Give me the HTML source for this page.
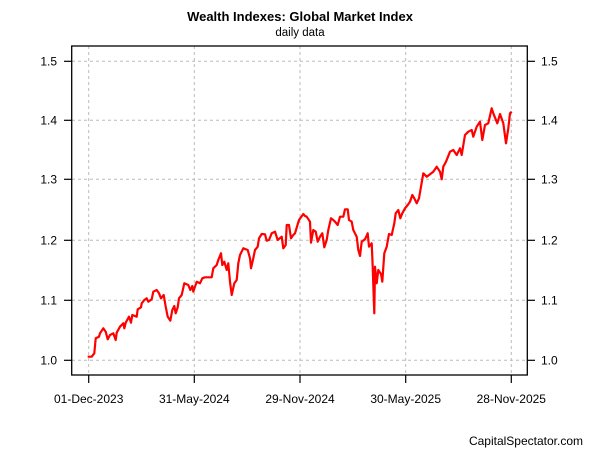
<!DOCTYPE html>
<html><head><meta charset="utf-8"><style>
html,body{margin:0;padding:0;background:#fff;width:600px;height:450px;overflow:hidden}
svg text{font-family:"Liberation Sans",Arial,sans-serif;fill:#000}
</style></head><body>
<svg id="s" width="600" height="450" xmlns="http://www.w3.org/2000/svg">
<text x="300" y="21" font-size="13" font-weight="bold" text-anchor="middle">Wealth Indexes: Global Market Index</text>
<text x="300" y="36" font-size="11.5" text-anchor="middle">daily data</text>
<g stroke="#bbb" stroke-dasharray="3,3" stroke-width="1">
<line x1="72" x2="527" y1="61.3" y2="61.3"/><line x1="72" x2="527" y1="120.3" y2="120.3"/><line x1="72" x2="527" y1="179.3" y2="179.3"/><line x1="72" x2="527" y1="240.3" y2="240.3"/><line x1="72" x2="527" y1="300.3" y2="300.3"/><line x1="72" x2="527" y1="360.3" y2="360.3"/>
<line y1="46" y2="375" x1="88.7" x2="88.7"/><line y1="46" y2="375" x1="194.3" x2="194.3"/><line y1="46" y2="375" x1="300" x2="300"/><line y1="46" y2="375" x1="405.7" x2="405.7"/><line y1="46" y2="375" x1="511.3" x2="511.3"/>
</g>
<rect x="71.7" y="46" width="455.6" height="329" fill="none" stroke="#000" stroke-width="1.3"/>
<g stroke="#000" stroke-width="1.2">
<line x1="64" x2="71.7" y1="61.3" y2="61.3"/><line x1="64" x2="71.7" y1="120.3" y2="120.3"/><line x1="64" x2="71.7" y1="179.3" y2="179.3"/><line x1="64" x2="71.7" y1="240.3" y2="240.3"/><line x1="64" x2="71.7" y1="300.3" y2="300.3"/><line x1="64" x2="71.7" y1="360.3" y2="360.3"/>
<line x1="527.3" x2="535" y1="61.3" y2="61.3"/><line x1="527.3" x2="535" y1="120.3" y2="120.3"/><line x1="527.3" x2="535" y1="179.3" y2="179.3"/><line x1="527.3" x2="535" y1="240.3" y2="240.3"/><line x1="527.3" x2="535" y1="300.3" y2="300.3"/><line x1="527.3" x2="535" y1="360.3" y2="360.3"/>
<line y1="375" y2="383" x1="88.7" x2="88.7"/><line y1="375" y2="383" x1="194.3" x2="194.3"/><line y1="375" y2="383" x1="300" x2="300"/><line y1="375" y2="383" x1="405.7" x2="405.7"/><line y1="375" y2="383" x1="511.3" x2="511.3"/>
</g>
<g font-size="12" text-anchor="end">
<text x="57" y="65.5">1.5</text><text x="57" y="124.5">1.4</text><text x="57" y="183.5">1.3</text><text x="57" y="244.5">1.2</text><text x="57" y="304.5">1.1</text><text x="57" y="364.5">1.0</text>
</g>
<g font-size="12">
<text x="541" y="65.5">1.5</text><text x="541" y="124.5">1.4</text><text x="541" y="183.5">1.3</text><text x="541" y="244.5">1.2</text><text x="541" y="304.5">1.1</text><text x="541" y="364.5">1.0</text>
</g>
<g font-size="12" text-anchor="middle">
<text x="88.7" y="403">01-Dec-2023</text><text x="194.3" y="403">31-May-2024</text><text x="300" y="403">29-Nov-2024</text><text x="405.7" y="403">30-May-2025</text><text x="511.3" y="403">28-Nov-2025</text>
</g>
<text x="583" y="445" font-size="12" text-anchor="end">CapitalSpectator.com</text>
<polyline id="p" fill="none" stroke="#f00" stroke-width="2.2" stroke-linejoin="round"/>
</svg>
<script>
var a=[[8,470],[20,470],[28,460],[32,415],[42,410],[45,400],[55,385],[62,395],[68,418],[75,405],[85,400],[92,420],[95,398],[105,380],[115,370],[118,385],[122,368],[132,350],[138,368],[142,345],[155,350],[158,328],[168,322],[170,310],[178,300],[185,295],[190,305],[200,298],[205,275],[215,270],[222,280],[228,295],[236,285],[242,320],[248,350],[256,362],[262,330],[268,318],[272,340],[278,322],[282,295],[290,285],[298,250],[310,255],[316,270],[322,258],[325,275],[335,245],[345,250],[352,235],[360,232],[380,232],[385,205],[395,195],[400,180],[408,160],[412,195],[418,185],[425,210],[430,190],[435,245],[440,285],[448,250],[455,240],[460,190],[465,165],[475,145],[488,150],[495,175],[498,205],[505,175],[510,150],[518,140],[522,115],[530,102],[540,103],[545,122],[552,120],[560,100],[570,95],[578,120],[590,110],[595,145],[602,135],[605,75],[612,75],[618,115],[625,105],[630,100],[642,60],[655,42],[660,48]];
var b=[[35,200],[45,215],[48,278],[55,240],[62,245],[68,275],[75,260],[82,250],[88,292],[95,270],[100,240],[108,205],[115,210],[120,215],[128,225],[135,200],[145,200],[150,178],[158,178],[162,210],[170,215],[175,240],[185,260],[190,300],[195,318],[200,275],[210,268],[218,250],[222,290],[230,280],[233,350],[236,440],[238,490],[240,350],[245,400],[250,360],[258,372],[262,395],[268,310],[275,290],[282,252],[290,255],[298,220],[302,190],[310,180],[316,205],[322,190],[330,175],[338,165],[345,155],[352,135],[358,145],[365,160],[372,145]];
var c=[[10,250],[20,260],[40,245],[50,230],[60,245],[65,268],[70,230],[78,215],[90,185],[100,180],[110,195],[120,175],[125,195],[135,135],[145,125],[155,120],[160,140],[170,110],[180,95],[187,150],[195,105],[205,100],[215,55],[220,70],[232,100],[240,72],[250,100],[258,160],[265,115],[270,70],[275,65]];
var pts=[];
a.forEach(function(p){pts.push((85+p[0]/3).toFixed(1)+","+(200+p[1]/3).toFixed(1))});
b.forEach(function(p){pts.push((295+p[0]/3).toFixed(1)+","+(150+p[1]/3).toFixed(1))});
c.forEach(function(p){pts.push((420+p[0]/3).toFixed(1)+","+(90+p[1]/3).toFixed(1))});
document.getElementById("p").setAttribute("points",pts.join(" "));
</script>
</body></html>
